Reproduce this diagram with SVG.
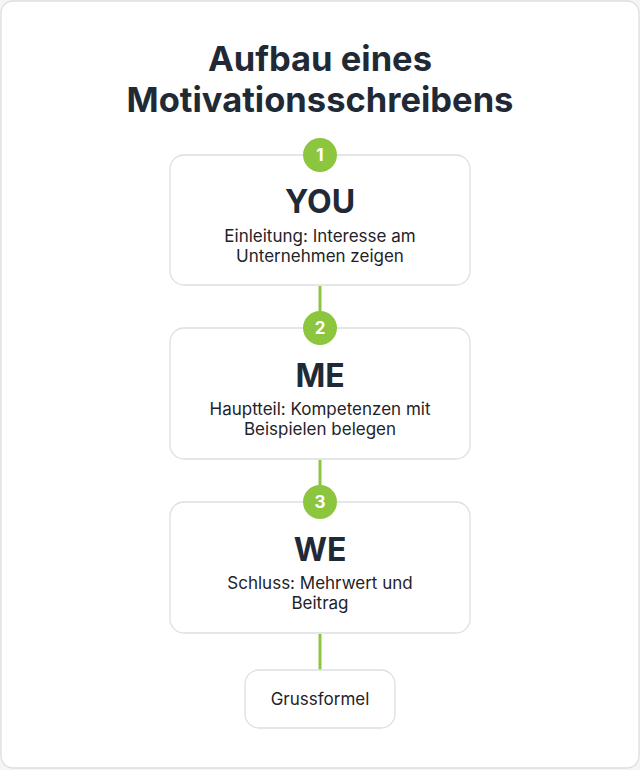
<svg xmlns="http://www.w3.org/2000/svg" width="640" height="770" viewBox="0 0 640 770">
<style>
.box{fill:#fff;stroke:#dcdfe3;stroke-width:1.3}
.badge{fill:#8cc63f}
.num{font-family:Inter,"Liberation Sans",sans-serif;font-weight:700;font-size:17px;fill:#fff;text-anchor:middle}
.head{font-family:Inter,"Liberation Sans",sans-serif;font-weight:700;font-size:32px;fill:#1f2a36;text-anchor:middle}
.sub{font-family:Inter,"Liberation Sans",sans-serif;font-size:17px;fill:#1f2329;text-anchor:middle}
.title{font-family:Inter,"Liberation Sans",sans-serif;font-weight:700;font-size:34.5px;fill:#1f2a36;text-anchor:middle}
.conn{stroke:#8cc63f;stroke-width:3;fill:none}
</style>
<rect x="0" y="0" width="640" height="770" fill="#f4f5f7"/>
<rect x="1" y="1" width="638" height="767" rx="12" fill="#fff" stroke="#dcdfe3" stroke-width="1.3"/>
<g id="title">
<text class="title" x="320" y="71">Aufbau eines</text>
<text class="title" x="320" y="112">Motivationsschreibens</text>
</g>
<g id="connectors">
<line class="conn" x1="320" y1="286" x2="320" y2="312"/>
<line class="conn" x1="320" y1="460" x2="320" y2="486"/>
<line class="conn" x1="320" y1="634" x2="320" y2="670"/>
</g>
<g id="node-you">
<rect class="box" x="170" y="155" width="300" height="130" rx="14"/>
<circle class="badge" cx="320" cy="155" r="17"/>
<text class="num" x="320" y="161">1</text>
<text class="head" x="320" y="213">YOU</text>
<text class="sub" x="320" y="242">Einleitung: Interesse am</text>
<text class="sub" x="320" y="262">Unternehmen zeigen</text>
</g>
<g id="node-me">
<rect class="box" x="170" y="328" width="300" height="131" rx="14"/>
<circle class="badge" cx="320" cy="328" r="17"/>
<text class="num" x="320" y="334">2</text>
<text class="head" x="320" y="387">ME</text>
<text class="sub" x="320" y="415">Hauptteil: Kompetenzen mit</text>
<text class="sub" x="320" y="435">Beispielen belegen</text>
</g>
<g id="node-we">
<rect class="box" x="170" y="502" width="300" height="131" rx="14"/>
<circle class="badge" cx="320" cy="502" r="17"/>
<text class="num" x="320" y="508">3</text>
<text class="head" x="320" y="561">WE</text>
<text class="sub" x="320" y="589">Schluss: Mehrwert und</text>
<text class="sub" x="320" y="609">Beitrag</text>
</g>
<g id="node-gruss">
<rect class="box" x="245" y="670" width="150" height="58" rx="14"/>
<text class="sub" x="320" y="705">Grussformel</text>
</g>
</svg>
